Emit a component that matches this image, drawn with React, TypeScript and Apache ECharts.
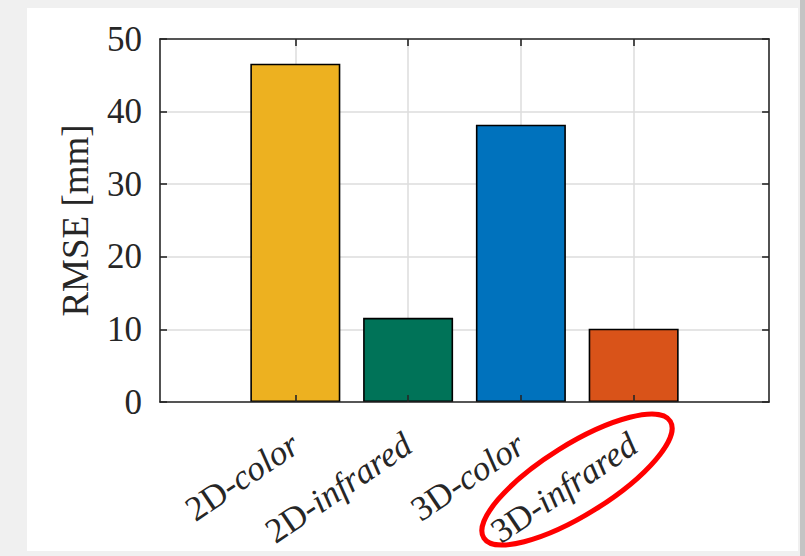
import React, { useEffect, useRef } from "react";
import * as echarts from "echarts";

const categories = ["2D-color", "2D-infrared", "3D-color", "3D-infrared"];
const positions = [1, 2, 3, 4];
const rmseValues = [46.6, 11.6, 38.2, 10.1];
const barColors = ["#EDB120", "#007358", "#0072BD", "#D95319"];
const yMin = 0;
const yMax = 50;
const yStep = 10;
const xMin = -0.2;
const xMax = 5.2;
const yAxisName = "RMSE [mm]";

const FONT = "'Liberation Serif', 'Times New Roman', serif";
const AX = "#262626";

export default function App() {
  const ref = useRef<HTMLDivElement>(null);
  useEffect(() => {
    if (!ref.current) return;
    const chart = echarts.init(ref.current, undefined, { renderer: "svg" });
    const labelFmt = (v: number) => {
      const idx = positions.indexOf(Math.round(v));
      if (idx < 0) return "";
      const name = categories[idx];
      const k = name.indexOf("-");
      return `{n|${name.slice(0, k + 1)}}{i|${name.slice(k + 1)}}`;
    };
    const lineTick = {
      axisLine: { show: true, onZero: false, lineStyle: { color: AX, width: 1.6 } },
      axisTick: { show: true, inside: true, length: 7, lineStyle: { color: AX, width: 1.6 } },
    };
    const hiddenX = {
      type: "value",
      min: xMin,
      max: xMax,
      z: 5,
      axisLabel: { show: false },
      splitLine: { show: false },
      axisLine: lineTick.axisLine,
      axisTick: { ...lineTick.axisTick, customValues: positions },
    };
    const hiddenY = {
      type: "value",
      min: yMin,
      max: yMax,
      interval: yStep,
      z: 5,
      axisLabel: { show: false },
      splitLine: { show: false },
      axisLine: lineTick.axisLine,
      axisTick: lineTick.axisTick,
    };
    chart.setOption({
      animation: false,
      backgroundColor: "#f0f0f0",
      graphic: [
        {
          type: "rect",
          z: -100,
          shape: { x: 27, y: 8, width: 771, height: 543 },
          style: { fill: "#ffffff" },
          silent: true,
        },
        {
          type: "rect",
          z: -100,
          shape: { x: 800, y: 0, width: 5, height: 556 },
          style: { fill: "#c4c4c4" },
          silent: true,
        },
        {
          type: "ellipse",
          z: 100,
          x: 577,
          y: 479.5,
          rotation: (32 * Math.PI) / 180,
          shape: { cx: 0, cy: 0, rx: 110, ry: 35 },
          style: { fill: "none", stroke: "#ff0000", lineWidth: 5 },
          silent: true,
        },
      ],
      grid: { left: 160, top: 39, width: 609, height: 363, containLabel: false },
      xAxis: [
        {
          type: "value",
          min: xMin,
          max: xMax,
          z: 0,
          axisLine: { show: false, onZero: false },
          axisTick: { show: false, customValues: positions },
          splitLine: { show: true, lineStyle: { color: "#dcdcdc", width: 1.5 } },
          axisLabel: {
            customValues: positions,
            rotate: 34,
            margin: 39,
            formatter: labelFmt,
            rich: {
              n: { fontFamily: FONT, fontSize: 35, color: AX, fontStyle: "normal" },
              i: { fontFamily: FONT, fontSize: 35, color: AX, fontStyle: "italic" },
            },
          },
        },
        { ...hiddenX, position: "bottom" },
        { ...hiddenX, position: "top" },
      ],
      yAxis: [
        {
          type: "value",
          min: yMin,
          max: yMax,
          interval: yStep,
          z: 0,
          name: yAxisName,
          nameLocation: "middle",
          nameGap: 66,
          nameTextStyle: { fontFamily: FONT, fontSize: 37, color: AX },
          axisLine: { show: false, onZero: false },
          axisTick: { show: false },
          splitLine: { show: true, lineStyle: { color: "#dcdcdc", width: 1.5 } },
          axisLabel: { fontFamily: FONT, fontSize: 35, color: AX, margin: 18 },
        },
        { ...hiddenY, position: "left" },
        { ...hiddenY, position: "right" },
      ],
      series: [
        {
          type: "bar",
          xAxisIndex: 0,
          yAxisIndex: 0,
          barWidth: 90,
          z: 2,
          data: positions.map((p, i) => ({
            value: [p, rmseValues[i]],
            itemStyle: { color: barColors[i], borderColor: "#000000", borderWidth: 1.6 },
          })),
        },
      ],
    });
    return () => chart.dispose();
  }, []);
  return (
    <div
      ref={ref}
      style={{ position: "fixed", left: 0, top: 0, width: 805, height: 556 }}
    />
  );
}
